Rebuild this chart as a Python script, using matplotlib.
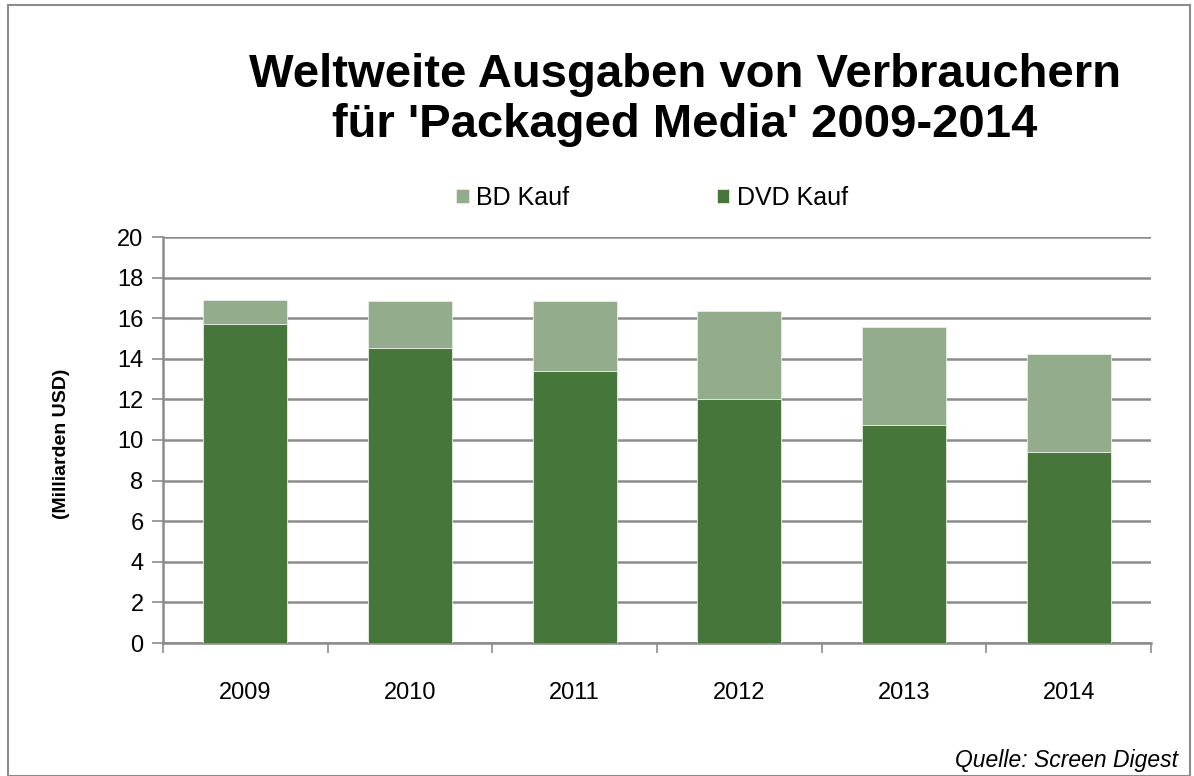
import matplotlib
matplotlib.use("Agg")
import matplotlib.pyplot as plt
from matplotlib.patches import Rectangle
import numpy as np

plt.rcParams['font.family'] = ['Liberation Sans', 'DejaVu Sans']

years = ["2009", "2010", "2011", "2012", "2013", "2014"]
dvd_kauf = [15.7, 14.55, 13.4, 12.0, 10.75, 9.4]
bd_kauf = [1.2, 2.3, 3.45, 4.35, 4.8, 4.85]
y_ticks = [0, 2, 4, 6, 8, 10, 12, 14, 16, 18, 20]

title = "Weltweite Ausgaben von Verbrauchern\nfür 'Packaged Media' 2009-2014"
y_label = "(Milliarden USD)"
source = "Quelle: Screen Digest"

dvd_color = "#467639"
bd_color = "#93AD8C"
grid_color = "#8C8C8C"

W, H = 1194, 776
fig = plt.figure(figsize=(W / 100, H / 100), dpi=100)
fig.patch.set_facecolor("white")

# outer border
fig.patches.append(Rectangle((8 / W, 0), (1190 - 8) / W, (H - 5) / H,
                             transform=fig.transFigure, fill=False,
                             edgecolor="#8C8C8C", linewidth=1.5))

ax = fig.add_axes([163 / W, (H - 643) / H, 988 / W, 406 / H])
x = np.arange(len(years))
b1 = ax.bar(x, dvd_kauf, width=0.51, color=dvd_color, label="DVD Kauf",
            edgecolor="#E8EEE6", linewidth=0.6, zorder=3)
b2 = ax.bar(x, bd_kauf, bottom=dvd_kauf, width=0.51, color=bd_color,
            label="BD Kauf", edgecolor="#E8EEE6", linewidth=0.6, zorder=3)

ax.set_xlim(-0.5, len(years) - 0.5)
ax.set_ylim(0, 20)
ax.set_yticks(y_ticks)
ax.yaxis.grid(True, color=grid_color, linewidth=1.8)
ax.set_axisbelow(True)

ax.set_xticks(x)
ax.set_xticklabels(years, fontsize=17)
ax.tick_params(axis="x", which="major", length=0, pad=28)
ax.set_xticks(np.arange(-0.5, len(years)), minor=True)
ax.tick_params(axis="x", which="minor", length=7, width=1.2, color=grid_color, direction="out")
ax.tick_params(axis="y", length=8, width=1.2, color=grid_color, labelsize=17, pad=6)

for s in ["top", "right"]:
    ax.spines[s].set_visible(False)
for s in ["left", "bottom"]:
    ax.spines[s].set_color(grid_color)
    ax.spines[s].set_linewidth(1.8)

fig.text(62 / W, (H - 444) / H, y_label, rotation=90, ha="center", va="center",
         fontsize=14, fontweight="bold")

fig.text(685 / W, (H - 100) / H, title, ha="center", va="center",
         fontsize=34, fontweight="bold", linespacing=1.2)

fig.legend(handles=[b2, b1], labels=["BD Kauf", "DVD Kauf"], loc="center",
           bbox_to_anchor=(652 / W, (H - 198) / H), ncol=2, frameon=False,
           fontsize=18, handlelength=0.5, handleheight=0.5, handletextpad=0.3,
           columnspacing=5.9)

fig.text(1178 / W, (H - 760) / H, source, ha="right", va="center",
         fontsize=16.5, fontstyle="italic")

fig.savefig("out.png", dpi=100)
